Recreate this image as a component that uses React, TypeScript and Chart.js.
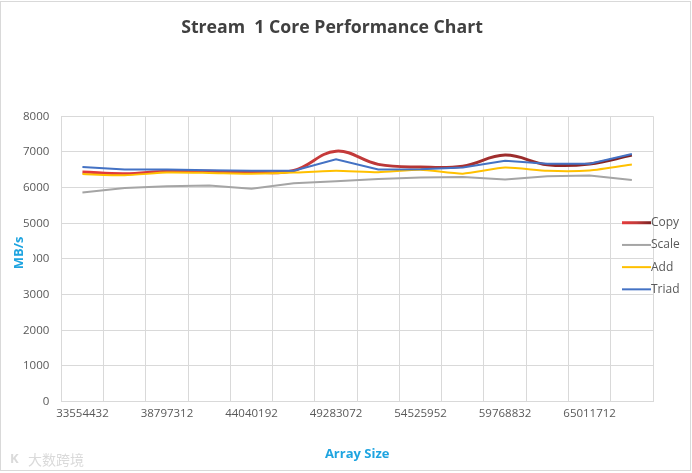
import { useEffect, useRef } from 'react';
import { Chart, registerables } from 'chart.js';

Chart.register(...registerables);

const arraySizes = [
  33554432, 36175872, 38797312, 41418752, 44040192, 46661632, 49283072,
  51904512, 54525952, 57147392, 59768832, 62390272, 65011712, 67633152,
];
const copyMBs = [6440, 6390, 6460, 6455, 6430, 6480, 7020, 6650, 6575, 6600, 6910, 6640, 6660, 6910];
const scaleMBs = [5860, 5990, 6040, 6060, 5970, 6120, 6180, 6240, 6280, 6300, 6225, 6320, 6340, 6210];
const addMBs = [6380, 6345, 6420, 6410, 6390, 6420, 6470, 6430, 6500, 6390, 6560, 6470, 6480, 6650];
const triadMBs = [6580, 6505, 6510, 6485, 6475, 6475, 6790, 6510, 6515, 6560, 6750, 6670, 6670, 6940];

const seriesNames = ['Copy', 'Scale', 'Add', 'Triad'];
const yMin = 0;
const yMax = 8000;
const yStep = 1000;

const FONT = "'Open Sans', 'Noto Sans', 'DejaVu Sans', sans-serif";
const BLUE_TITLE = '#1ea4e0';
const TEXT = '#595959';
const GRID = '#d9d9d9';

function copyGradient(ctx: CanvasRenderingContext2D, x0: number, x1: number) {
  const g = ctx.createLinearGradient(x0, 0, x1, 0);
  g.addColorStop(0, '#e63b3b');
  g.addColorStop(0.5, '#c23a3a');
  g.addColorStop(1, '#7a2020');
  return g;
}

const decorPlugin = {
  id: 'decor',
  afterDraw(chart: any) {
    const { ctx, chartArea } = chart;
    ctx.save();
    // frame
    ctx.strokeStyle = GRID;
    ctx.lineWidth = 1;
    ctx.strokeRect(0.5, 1.5, chart.width - 2, chart.height - 4);

    // y axis title with white box (overlapping a tick label as in the reference)
    const cy = (chartArea.top + chartArea.bottom) / 2 - 6;
    ctx.fillStyle = '#ffffff';
    ctx.fillRect(11, cy - 22, 22, 44);
    ctx.translate(19, cy);
    ctx.rotate(-Math.PI / 2);
    ctx.fillStyle = BLUE_TITLE;
    ctx.font = `bold 13px ${FONT}`;
    ctx.textAlign = 'center';
    ctx.textBaseline = 'middle';
    ctx.fillText('MB/s', 0, 0);
    ctx.setTransform(1, 0, 0, 1, 0, 0);
    ctx.scale(chart.currentDevicePixelRatio, chart.currentDevicePixelRatio);

    // legend
    ctx.font = `12px ${FONT}`;
    ctx.textAlign = 'left';
    ctx.textBaseline = 'middle';
    chart.data.datasets.forEach((ds: any, i: number) => {
      const y = chartArea.top + 106.5 + i * 22.2;
      const x0 = chartArea.right - 31;
      const x1 = chartArea.right - 2;
      ctx.beginPath();
      ctx.moveTo(x0, y);
      ctx.lineTo(x1, y);
      ctx.lineWidth = i === 0 ? 3 : 2;
      ctx.strokeStyle = i === 0 ? copyGradient(ctx, x0, x1) : ds.legendColor;
      ctx.stroke();
      ctx.fillStyle = TEXT;
      ctx.fillText(ds.label, x1, y);
    });

    // watermark
    ctx.font = `14px 'Noto Sans CJK SC', sans-serif`;
    ctx.fillStyle = '#dadada';
    ctx.textBaseline = 'middle';
    ctx.fillText('大数跨境', 28, 460);
    ctx.font = `bold 13px ${FONT}`;
    ctx.fillText('K', 10, 459);
    ctx.restore();
  },
};

export default function App() {
  const canvasRef = useRef<HTMLCanvasElement | null>(null);

  useEffect(() => {
    document.body.style.margin = '0';
    const canvas = canvasRef.current;
    if (!canvas) return;
    const chart = new Chart(canvas, {
      type: 'line',
      data: {
        labels: arraySizes.map(String),
        datasets: [
          {
            label: seriesNames[0],
            data: copyMBs,
            borderColor: (c: any) => {
              const area = c.chart.chartArea;
              if (!area) return '#c23a3a';
              return copyGradient(c.chart.ctx, area.left, area.right);
            },
            legendColor: '#c23a3a',
            borderWidth: 3,
            tension: 0.4,
            pointRadius: 0,
            order: 3,
          } as any,
          {
            label: seriesNames[1],
            data: scaleMBs,
            borderColor: '#a5a5a5',
            legendColor: '#a5a5a5',
            borderWidth: 2,
            tension: 0,
            pointRadius: 0,
            order: 2,
          } as any,
          {
            label: seriesNames[2],
            data: addMBs,
            borderColor: '#ffc000',
            legendColor: '#ffc000',
            borderWidth: 2,
            tension: 0.2,
            pointRadius: 0,
            order: 1,
          } as any,
          {
            label: seriesNames[3],
            data: triadMBs,
            borderColor: '#4472c4',
            legendColor: '#4472c4',
            borderWidth: 2,
            tension: 0,
            pointRadius: 0,
            order: 0,
          } as any,
        ],
      },
      options: {
        responsive: false,
        animation: false,
        layout: { padding: { left: 11, right: 39, top: 0, bottom: 0 } },
        plugins: {
          legend: { display: false },
          tooltip: { enabled: false },
          title: {
            display: true,
            text: 'Stream  1 Core Performance Chart',
            color: '#404040',
            font: { family: FONT, size: 17.7, weight: 'bold' },
            padding: { top: 17, bottom: 78 },
          },
        },
        scales: {
          x: {
            type: 'category',
            offset: true,
            grid: { offset: true, color: GRID, drawTicks: false },
            border: { display: true, color: GRID },
            ticks: {
              autoSkip: false,
              maxRotation: 0,
              padding: 5,
              color: TEXT,
              font: { family: FONT, size: 11.5 },
              callback: (_v: any, i: number) => (i % 2 === 0 ? String(arraySizes[i]) : ''),
            },
            title: {
              display: true,
              text: 'Array Size',
              color: BLUE_TITLE,
              font: { family: FONT, size: 13, weight: 'bold' },
              padding: { top: 21, bottom: 11 },
            },
          },
          y: {
            min: yMin,
            max: yMax,
            grid: { color: GRID, drawTicks: false },
            border: { display: true, color: GRID },
            ticks: {
              stepSize: yStep,
              padding: 12,
              color: TEXT,
              font: { family: FONT, size: 11.5 },
              callback: (v: any) => String(v),
            },
          },
        },
      },
      plugins: [decorPlugin],
    });
    return () => chart.destroy();
  }, []);

  return (
    <div style={{ width: 692, height: 473, background: '#fff' }}>
      <canvas ref={canvasRef} width={692} height={473} style={{ display: 'block' }} />
    </div>
  );
}
